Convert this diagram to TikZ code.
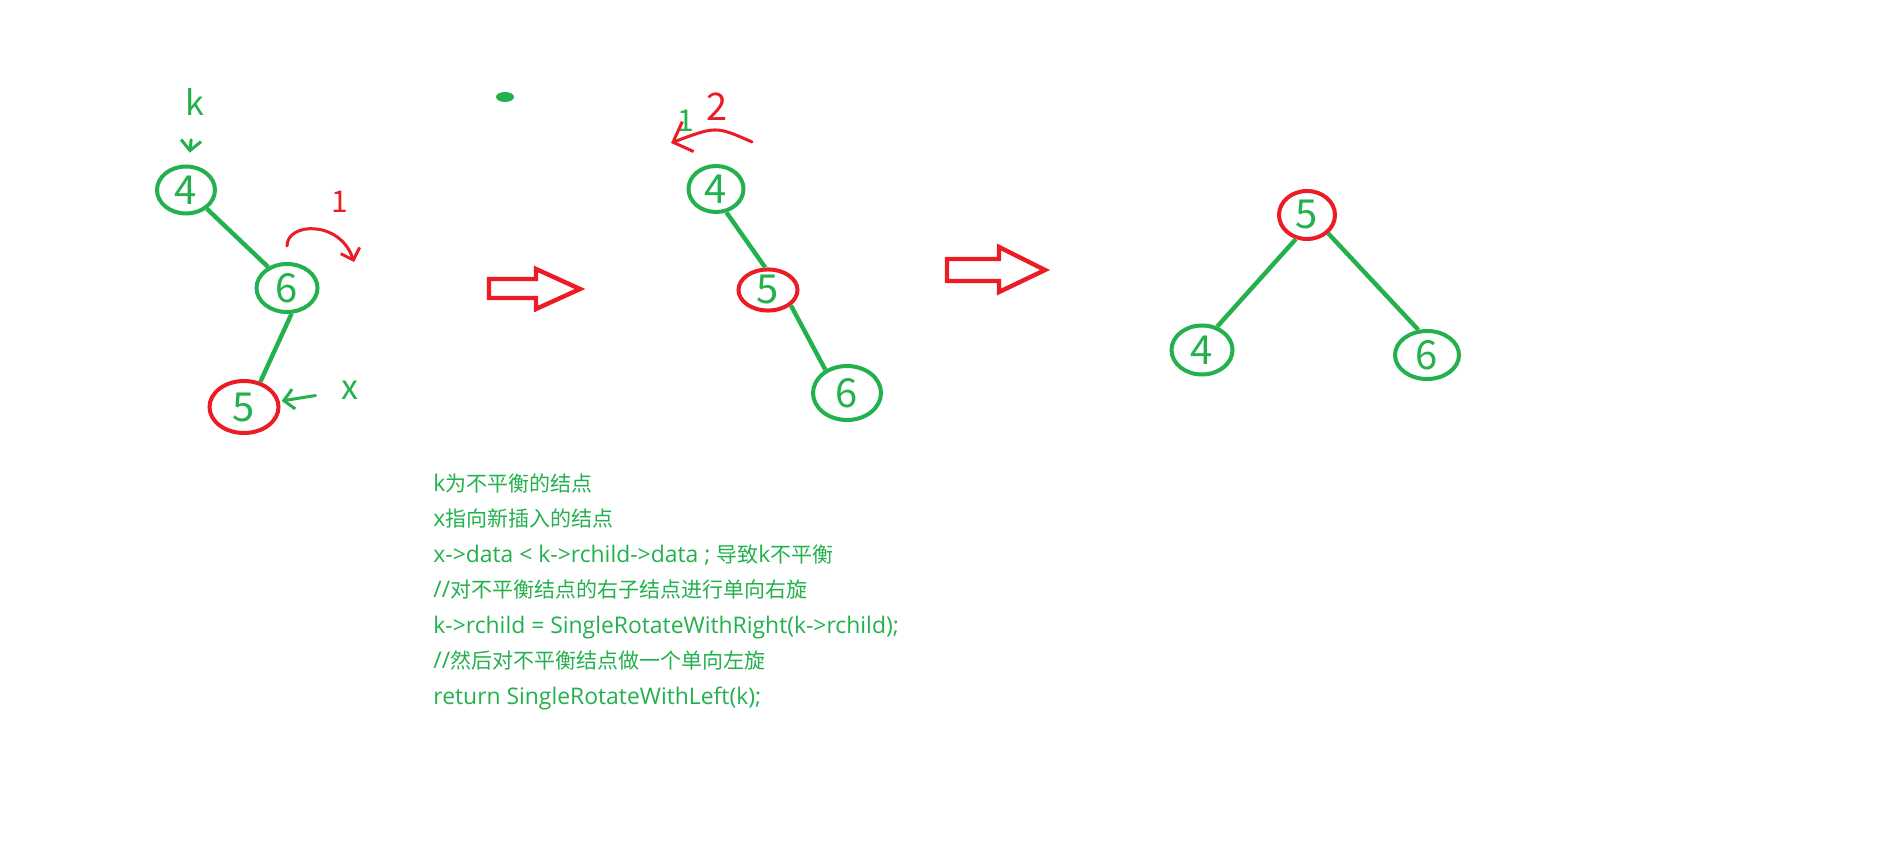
\documentclass[tikz,border=0pt]{standalone}
\usepackage{fontspec}
\setmainfont{Open Sans}[Scale=1.09]
\newfontfamily\cjk{Noto Sans CJK SC}
\usetikzlibrary{shapes.geometric, arrows.meta}
\definecolor{penGreen}{RGB}{34, 177, 76}
\definecolor{penRed}{RGB}{237, 28, 36}

\begin{document}
\begin{tikzpicture}[x=0.5pt, y=-0.5pt,
    tnode/.style={ellipse, draw=penGreen, line width=2pt, inner sep=0pt, text=penGreen,
      font=\cjk\fontsize{20}{20}\selectfont},
    rnode/.style={tnode, draw=penRed},
    link/.style={penGreen, line width=2.2pt},
    hand/.style={inner sep=0pt, font=\cjk\fontsize{17}{17}\selectfont},
    pen/.style={line width=1.5pt, line cap=round, -{Straight Barb[length=5pt, width=10pt]}},
    bigarrow/.style={draw=penRed, line width=2.2pt, fill=white, line join=miter},
    code/.style={anchor=base west, text=penGreen, inner sep=0pt, font=\fontsize{10.5}{12}\selectfont}]
  \fill[white] (0,0) rectangle (1904,844);
  \useasboundingbox (0,0) rectangle (1904,844);

  % first tree: k is unbalanced
  \node[tnode, minimum width=29pt, minimum height=23.5pt] (a4) at (186,190) {4};
  \node[tnode, minimum width=30.5pt, minimum height=24pt] (a6) at (287,288) {6};
  \node[rnode, minimum width=34.5pt, minimum height=26pt] (a5) at (244,407) {5};
  \draw[link] (a4.-42) -- (a6.132);
  \draw[link] (a6.-80) -- (a5.57);

  \node[hand, text=penGreen] (klab) at (195,102) {k};
  \draw[pen, penGreen, shorten <=12pt, shorten >=6pt] (klab) -- (a4);
  \node[hand, text=penGreen] (xlab) at (350,390) {x};
  \draw[pen, penGreen, shorten <=13pt, shorten >=1pt] (xlab) -- (a5);
  \node[hand, text=penRed, font=\cjk\fontsize{15}{15}\selectfont] (rot1) at (340,202) {1};
  \draw[pen, penRed] (287,246) .. controls (287,222) and (340,220) .. (354,262);

  \fill[penGreen] (505,97) ellipse (4.5pt and 2.5pt);

  \draw[bigarrow] (489,279) -- (536,279) -- (536,269) -- (580,289) -- (536,309) -- (536,298) -- (489,298) -- cycle;

  % second tree: after the right rotation
  \node[tnode, minimum width=27.5pt, minimum height=23pt] (b4) at (716,189) {4};
  \node[rnode, minimum width=29.5pt, minimum height=17.5pt] (b5) at (768,290) {5};
  \node[tnode, minimum width=34pt, minimum height=27pt] (b6) at (847,393) {6};
  \draw[link] (b4.-66) -- (b5.97);
  \draw[link] (b5.-34) -- (b6.133);

  \node[hand, text=penRed, font=\cjk\fontsize{19}{19}\selectfont] (rot2) at (717,107) {2};
  \node[hand, text=penGreen, font=\cjk\fontsize{15}{15}\selectfont] (done1) at (686,121) {1};
  \draw[pen, penRed, -{Straight Barb[length=8pt, width=16pt]}] (752,142) .. controls (716,126) .. (671,143);

  \draw[bigarrow] (947,259) -- (999,259) -- (999,247) -- (1045,270) -- (999,292) -- (999,281) -- (947,281) -- cycle;

  % third tree: after the left rotation
  \node[rnode, minimum width=28pt, minimum height=24pt] (c5) at (1307,215) {5};
  \node[tnode, minimum width=30.5pt, minimum height=24.5pt] (c4) at (1202,350) {4};
  \node[tnode, minimum width=32pt, minimum height=24pt] (c6) at (1427,355) {6};
  \draw[link] (c5.-115) -- (c4.57);
  \draw[link] (c5.-41) -- (c6.109);

  % notes
  \node[code] (l1) at (433,491) {k{\cjk 为不平衡的结点}};
  \node[code] (l2) at (433,526.5) {x{\cjk 指向新插入的结点}};
  \node[code] (l3) at (433,562) {x->data < k->rchild->data ; {\cjk 导致}k{\cjk 不平衡}};
  \node[code] (l4) at (433,597.5) {//{\cjk 对不平衡结点的右子结点进行单向右旋}};
  \node[code] (l5) at (433,633) {k->rchild = SingleRotateWithRight(k->rchild);};
  \node[code] (l6) at (433,668.5) {//{\cjk 然后对不平衡结点做一个单向左旋}};
  \node[code] (l7) at (433,704) {return SingleRotateWithLeft(k);};
\end{tikzpicture}
\end{document}
